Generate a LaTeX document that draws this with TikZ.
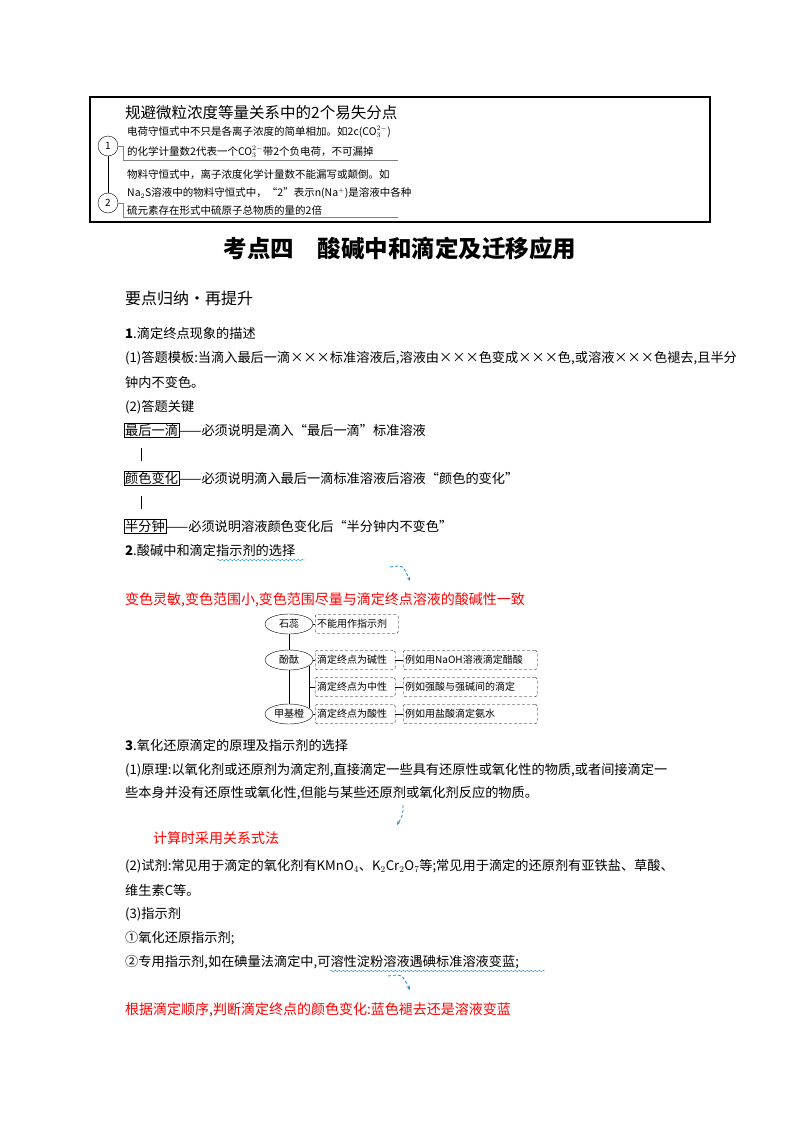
\documentclass[tikz,border=0pt]{standalone}
\usepackage{fontspec}
\setmainfont{Noto Sans CJK SC}
\usetikzlibrary{shapes.geometric,decorations.pathmorphing,arrows.meta}
\tikzset{
 tx/.style={anchor=west,inner sep=0pt,font=\fontsize{13.2}{15}\selectfont},
 sm/.style={anchor=west,inner sep=0pt,font=\fontsize{10.5}{12}\selectfont},
 red/.style={anchor=west,inner sep=0pt,font=\fontsize{14}{16}\selectfont,text=red},
 kbox/.style={anchor=west,draw,inner sep=1pt,font=\fontsize{13.2}{15}\selectfont},
 ell/.style={ellipse,draw,minimum width=48pt,minimum height=20pt,inner sep=0pt,font=\fontsize{10}{12}\selectfont},
 dbox/.style={draw,densely dashed,rounded corners=2pt,anchor=west,minimum height=19pt,inner sep=2pt,align=left,font=\fontsize{10}{12}\selectfont},
 cyanarrow/.style={draw=cyan!70!blue,densely dashed,thick,-{Stealth[length=4pt]}},
 wavy/.style={draw=cyan!70!blue,decorate,decoration={snake,amplitude=0.6pt,segment length=4pt}},
 circ/.style={circle,draw,minimum size=20pt,inner sep=0pt,font=\fontsize{10}{12}\selectfont}
}
\begin{document}
\begin{tikzpicture}[x=1pt,y=-1pt]
\useasboundingbox (0,0) rectangle (800,1132);
% top box
\draw[line width=1.3pt] (90,97) rectangle (710,222);
\node[anchor=west,inner sep=0pt,font=\fontsize{15.5}{17}\selectfont] (ttl) at (125,113) {规避微粒浓度等量关系中的2个易失分点};
\node[circ] (c1) at (108,146) {1};
\node[circ] (c2) at (108,203) {2};
\draw (c1) -- (c2);
\node[sm] (a1) at (127,132) {电荷守恒式中不只是各离子浓度的简单相加。如2\textit{c}(CO$_3^{2-}$)};
\node[sm] (a2) at (127,152) {的化学计量数2代表一个CO$_3^{2-}$带2个负电荷，不可漏掉};
\draw[gray] (c1.east) -- ++(5,0) -- ++(0,14) coordinate (u1) -- (398,160);
\node[sm] (b1) at (127,175) {物料守恒式中，离子浓度化学计量数不能漏写或颠倒。如};
\node[sm] (b2) at (127,193) {Na$_2$S溶液中的物料守恒式中，“2”表示\textit{n}(Na$^+$)是溶液中各种};
\node[sm] (b3) at (127,210) {硫元素存在形式中硫原子总物质的量的2倍};
\draw[gray] (c2.east) -- ++(5,0) -- ++(0,14) coordinate (u2) -- (398,217);
% heading
\node[inner sep=0pt,font=\fontsize{23.5}{26}\selectfont\bfseries] (h) at (400,248) {考点四\quad 酸碱中和滴定及迁移应用};
\node[anchor=west,inner sep=0pt,font=\fontsize{16}{18}\selectfont] (h2) at (125,298) {要点归纳·再提升};
\node[tx] (s1) at (125,333) {\textbf{1}.滴定终点现象的描述};
\node[tx] (p1) at (125,358) {(1)答题模板:当滴入最后一滴×××标准溶液后,溶液由×××色变成×××色,或溶液×××色褪去,且半分};
\node[tx] (p1b) at (125,382) {钟内不变色。};
\node[tx] (p2) at (125,407) {(2)答题关键};
\node[kbox] (k1) at (124,430) {最后一滴};
\node[tx] (k1t) at (k1.east) {——必须说明是滴入“最后一滴”标准溶液};
\node[kbox] (k2) at (124,478) {颜色变化};
\node[tx] (k2t) at (k2.east) {——必须说明滴入最后一滴标准溶液后溶液“颜色的变化”};
\node[kbox] (k3) at (124,526) {半分钟};
\node[tx] (k3t) at (k3.east) {——必须说明溶液颜色变化后“半分钟内不变色”};
\draw (141,448) -- (141,461);
\draw (141,496) -- (141,509);
\node[tx] (s2) at (125,550) {\textbf{2}.酸碱中和滴定指示剂的选择};
\draw[wavy] (217,560) -- (305,560);
\coordinate (ar1) at (390,567);
\coordinate (ar1e) at (410,581);
\draw[cyanarrow] (ar1) .. controls (403,565) .. (ar1e);
\node[red] (r1) at (125,600) {变色灵敏,变色范围小,变色范围尽量与滴定终点溶液的酸碱性一致};
% diagram
\node[ell] (e1) at (289,624) {石蕊};
\node[ell] (e2) at (289,660) {酚酞};
\node[ell] (e3) at (289,714) {甲基橙};
\draw (e1) -- (e2) -- (e3);
\node[dbox,text width=79pt] (d0) at (315,624) {不能用作指示剂};
\node[dbox,text width=76pt] (d1) at (315,660) {滴定终点为碱性};
\node[dbox,text width=76pt] (d2) at (315,687) {滴定终点为中性};
\node[dbox,text width=76pt] (d3) at (315,714) {滴定终点为酸性};
\node[dbox,text width=130pt] (f1) at (403,660) {例如用NaOH溶液滴定醋酸};
\node[dbox,text width=130pt] (f2) at (403,687) {例如强酸与强碱间的滴定};
\node[dbox,text width=130pt] (f3) at (403,714) {例如用盐酸滴定氨水};
\draw (e1.east) -- (d0.west);
\draw (e2.east) -- (d1.west);
\draw (e3.east) -- (d3.west);
\draw (309,666) -- (309,708);
\draw (309,687) -- (d2.west);
\draw (d1) -- (f1); \draw (d2) -- (f2); \draw (d3) -- (f3);
% section 3
\node[tx] (s3) at (125,745) {\textbf{3}.氧化还原滴定的原理及指示剂的选择};
\node[tx] (q1) at (125,770) {(1)原理:以氧化剂或还原剂为滴定剂,直接滴定一些具有还原性或氧化性的物质,或者间接滴定一};
\node[tx] (q1b) at (125,793) {些本身并没有还原性或氧化性,但能与某些还原剂或氧化剂反应的物质。};
\coordinate (ar2) at (403,805);
\coordinate (ar2e) at (397,825);
\draw[cyanarrow] (ar2) .. controls (403,815) .. (ar2e);
\node[red] (r2) at (153,838) {计算时采用关系式法};
\node[tx] (q2) at (125,866) {(2)试剂:常见用于滴定的氧化剂有KMnO$_4$、K$_2$Cr$_2$O$_7$等;常见用于滴定的还原剂有亚铁盐、草酸、};
\node[tx] (q2b) at (125,890) {维生素C等。};
\node[tx] (q3) at (125,914) {(3)指示剂};
\node[tx] (q4) at (125,938) {①氧化还原指示剂;};
\node[tx] (q5) at (125,962) {②专用指示剂,如在碘量法滴定中,可溶性淀粉溶液遇碘标准溶液变蓝;};
\draw[wavy] (330,971) -- (545,971);
\coordinate (ar3) at (388,976);
\coordinate (ar3e) at (410,990);
\draw[cyanarrow] (ar3) .. controls (402,974) .. (ar3e);
\node[red] (r3) at (125,1010) {根据滴定顺序,判断滴定终点的颜色变化:蓝色褪去还是溶液变蓝};
\end{tikzpicture}
\end{document}
